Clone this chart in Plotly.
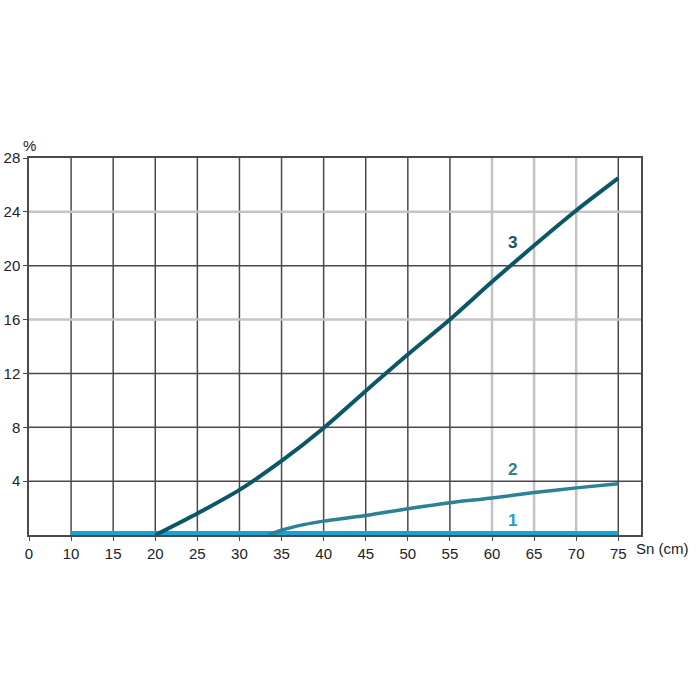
import plotly.graph_objects as go

# Data (Sn in cm, value in %)
line1_x = [10, 75]
line1_y = [0.12, 0.12]

line2_x = [33.5, 35, 37.5, 40, 45, 50, 55, 60, 65, 70, 75]
line2_y = [0.0, 0.35, 0.75, 1.03, 1.45, 1.95, 2.4, 2.75, 3.15, 3.5, 3.8]

line3_x = [20, 25, 30, 35, 40, 45, 50, 55, 60, 65, 70, 75]
line3_y = [0.0, 1.6, 3.35, 5.5, 7.95, 10.7, 13.4, 16.0, 18.8, 21.5, 24.1, 26.5]

x_tickvals = [5, 10, 15, 20, 25, 30, 35, 40, 45, 50, 55, 60, 65, 70, 75]
x_ticktext = ["0", "10", "15", "20", "25", "30", "35", "40", "45", "50", "55", "60", "65", "70", "75"]
y_tickvals = [4, 8, 12, 16, 20, 24, 28]
y_ticktext = ["4", "8", "12", "16", "20", "24", "28"]

dark_grid_x = [10, 15, 20, 25, 30, 35, 40, 45, 50, 55, 75]
light_grid_x = [60, 65, 70]
dark_grid_y = [4, 8, 12, 20]
light_grid_y = [16, 24]

labels = [("1", 62.4, 1.1, "#1f9dcb"), ("2", 62.4, 4.85, "#2b8195"), ("3", 62.4, 21.7, "#0b5767")]

DARK = "#4a4a4a"
LIGHT = "#c4c4c4"
FONT = "Arial, Liberation Sans, sans-serif"

fig = go.Figure()
fig.add_trace(go.Scatter(x=line1_x, y=line1_y, mode="lines",
                         line=dict(color="#19a3d4", width=5), showlegend=False))
fig.add_trace(go.Scatter(x=line2_x, y=line2_y, mode="lines", line_shape="spline",
                         line=dict(color="#2b8195", width=3.5, smoothing=0.8), showlegend=False))
fig.add_trace(go.Scatter(x=line3_x, y=line3_y, mode="lines", line_shape="spline",
                         line=dict(color="#0b5767", width=4, smoothing=0.8), showlegend=False))

shapes = []
for vals, col, w in ((light_grid_x, LIGHT, 2.5), (dark_grid_x, DARK, 1.5)):
    for v in vals:
        shapes.append(dict(type="line", xref="x", yref="paper", x0=v, x1=v, y0=0, y1=1,
                           line=dict(color=col, width=w), layer="below"))
for vals, col, w in ((light_grid_y, LIGHT, 2.5), (dark_grid_y, DARK, 1.5)):
    for v in vals:
        shapes.append(dict(type="line", xref="paper", yref="y", x0=0, x1=1, y0=v, y1=v,
                           line=dict(color=col, width=w), layer="below"))

annotations = []
for t, x, y, c in labels:
    annotations.append(dict(text="<b>" + t + "</b>", x=x, y=y, xref="x", yref="y",
                            showarrow=False, font=dict(family=FONT, size=17, color=c)))
annotations.append(dict(text="Sn (cm)", x=0.9886, y=-0.037, xref="paper", yref="paper",
                        xanchor="left", yanchor="middle", showarrow=False,
                        font=dict(family=FONT, size=15, color="#222")))
annotations.append(dict(text="%", x=0.0, y=1.034, xref="paper", yref="paper",
                        xanchor="center", yanchor="middle", showarrow=False,
                        font=dict(family=FONT, size=15, color="#222")))

fig.update_layout(
    width=700, height=700,
    margin=dict(l=29, r=59, t=158, b=165),
    paper_bgcolor="white", plot_bgcolor="white",
    font=dict(family=FONT, size=15, color="#222"),
    shapes=shapes, annotations=annotations,
    xaxis=dict(range=[5, 77.7], tickvals=x_tickvals, ticktext=x_ticktext,
               showgrid=False, automargin=False,
               showline=True, linecolor=DARK, linewidth=1.5, mirror=True,
               ticks="outside", ticklen=4, tickcolor=DARK, zeroline=False),
    yaxis=dict(range=[0, 28], tickvals=y_tickvals, ticktext=y_ticktext,
               showgrid=False, automargin=False,
               showline=True, linecolor=DARK, linewidth=1.5, mirror=True,
               ticks="outside", ticklen=4, tickcolor=DARK, zeroline=False),
)

fig.write_html("out.html", config={"displayModeBar": False},
               post_script="document.body.style.margin='0';")
